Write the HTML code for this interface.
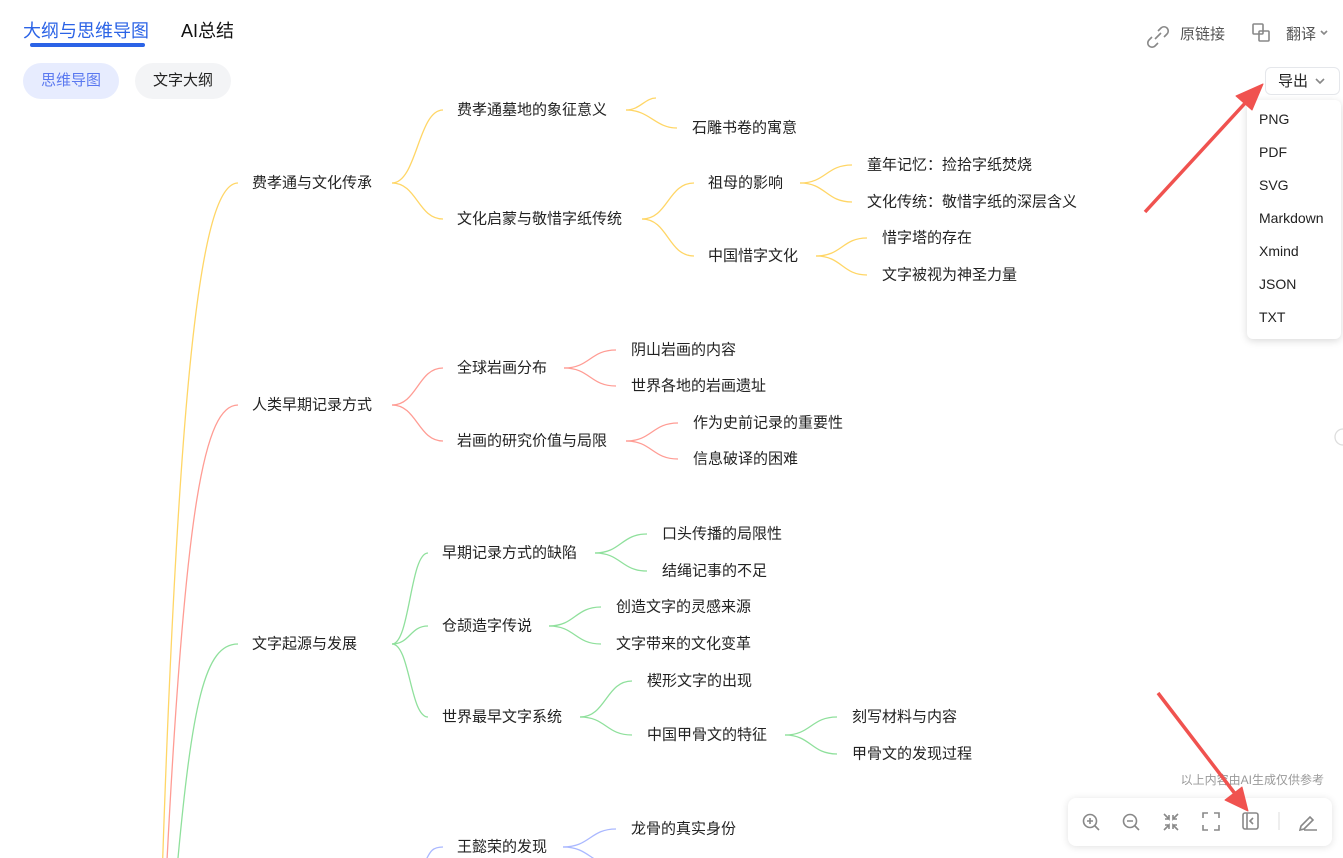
<!DOCTYPE html>
<html><head><meta charset="utf-8"><style>
body{margin:0;width:1343px;height:858px;overflow:hidden;background:#fff;font-family:"Liberation Sans","Noto Sans CJK SC",sans-serif;position:relative}
.a{position:absolute;white-space:nowrap}
svg{position:absolute;left:0;top:0}
</style></head><body>
<div class="a" style="left:23px;top:17px;font-size:18px;color:#2b63e6">大纲与思维导图</div>
<div class="a" style="left:30px;top:43px;width:115px;height:4px;border-radius:2px;background:#2b63e6"></div>
<div class="a" style="left:181px;top:17px;font-size:18px;color:#111">AI总结</div>
<div class="a" style="left:23px;top:63px;width:96px;height:36px;border-radius:18px;background:#e7ecfe;color:#5b79f0;font-size:15px;line-height:36px;text-align:center">思维导图</div>
<div class="a" style="left:135px;top:63px;width:96px;height:36px;border-radius:18px;background:#f3f4f6;color:#222;font-size:15px;line-height:36px;text-align:center">文字大纲</div>
<div class="a" style="left:1180px;top:23px;font-size:15px;color:#555">原链接</div>
<div class="a" style="left:1286px;top:23px;font-size:15px;color:#555">翻译</div>
<div class="a" style="left:1265px;top:67px;width:75px;height:28px;border:1px solid #e5e7eb;border-radius:6px;font-size:15px;line-height:28px;color:#222;box-sizing:border-box;padding-left:12px">导出</div>
<div class="a" style="left:1247px;top:100px;width:94px;height:239px;border-radius:6px;box-shadow:0 2px 8px rgba(0,0,0,.15);background:#fff;font-size:14px;color:#222">
<div style="position:absolute;left:12px;top:11px;line-height:16px">PNG</div>
<div style="position:absolute;left:12px;top:44px;line-height:16px">PDF</div>
<div style="position:absolute;left:12px;top:77px;line-height:16px">SVG</div>
<div style="position:absolute;left:12px;top:110px;line-height:16px">Markdown</div>
<div style="position:absolute;left:12px;top:143px;line-height:16px">Xmind</div>
<div style="position:absolute;left:12px;top:176px;line-height:16px">JSON</div>
<div style="position:absolute;left:12px;top:209px;line-height:16px">TXT</div>
</div>
<div class="a" style="right:19px;top:771px;font-size:12px;color:#999">以上内容由AI生成仅供参考</div>
<div class="a" style="left:1068px;top:798px;width:264px;height:48px;border-radius:8px;background:#fff;box-shadow:0 1px 8px rgba(0,0,0,.12)"></div>
<svg width="1343" height="858" viewBox="0 0 1343 858">
<g fill="none" stroke-width="1.3">
<g stroke="#ffd666">
<path d="M162,880 C180,330 205,183 238,183"/>
<path d="M392,183 C417,183 418,110 443,110"/><path d="M392,183 C417,183 418,219 443,219"/>
<path d="M626,110 C640,110 645,98 656,98"/><path d="M626,110 C650,110 655,128 677,128"/>
<path d="M642,219 C668,219 668,183 694,183"/><path d="M642,219 C668,219 668,256 694,256"/>
<path d="M800,183 C826,183 826,165 852,165"/><path d="M800,183 C826,183 826,202 852,202"/>
<path d="M816,256 C842,256 842,238 867,238"/><path d="M816,256 C842,256 842,275 867,275"/>
</g>
<g stroke="#ff9c94">
<path d="M166,880 C185,500 205,405 238,405"/>
<path d="M392,405 C417,405 418,368 443,368"/><path d="M392,405 C417,405 418,441 443,441"/>
<path d="M564,368 C590,368 590,350 616,350"/><path d="M564,368 C590,368 590,386 616,386"/>
<path d="M626,441 C652,441 652,423 678,423"/><path d="M626,441 C652,441 652,459 678,459"/>
</g>
<g stroke="#8fe09c">
<path d="M176,880 C192,700 205,644 238,644"/>
<path d="M392,644 C410,644 410,553 428,553"/><path d="M392,644 C410,644 410,626 428,626"/><path d="M392,644 C410,644 410,717 428,717"/>
<path d="M595,553 C621,553 621,534 647,534"/><path d="M595,553 C621,553 621,571 647,571"/>
<path d="M549,626 C575,626 575,607 601,607"/><path d="M549,626 C575,626 575,644 601,644"/>
<path d="M580,717 C606,717 606,681 632,681"/><path d="M580,717 C606,717 606,735 632,735"/>
<path d="M785,735 C811,735 811,717 837,717"/><path d="M785,735 C811,735 811,754 837,754"/>
</g>
<g stroke="#aab8ff">
<path d="M443,847 C432,847 430,852 426,860"/>
<path d="M563,847 C590,847 590,829 616,829"/><path d="M563,847 C590,847 590,865 616,865"/>
</g>
<g stroke="#888" stroke-width="1.6">
<path d="M1152,37 l-3,3 a4,4 0 0 0 6,6 l3,-3 M1158,31 l3,-3 a4,4 0 0 1 6,6 l-3,3 M1155,39 l6,-6"/>
<rect x="1253" y="24" width="10" height="10" rx="1"/><rect x="1259" y="31" width="10" height="10" rx="1"/>
<path d="M1321,31 l3,3 3,-3"/><path d="M1316,79 l4,4 4,-4"/>
<circle cx="1090" cy="821" r="6.5"/><path d="M1095,826 l4,4 M1087,821 h6 M1090,818 v6"/>
<circle cx="1130" cy="821" r="6.5"/><path d="M1135,826 l4,4 M1127,821 h6"/>
<path d="M1164,814 l5,5 v-4 M1169,819 h-4 M1178,814 l-5,5 v-4 M1173,819 h4 M1164,830 l5,-5 v4 M1169,825 h-4 M1178,830 l-5,-5 v4 M1173,825 h4"/>
<path d="M1203,818 v-5 h5 M1214,813 h5 v5 M1219,825 v5 h-5 M1208,830 h-5 v-5"/>
<rect x="1243" y="813" width="15" height="16" rx="2"/><path d="M1247,813 v16 M1253,818 l-3,3 3,3"/>
<path d="M1300,830 l1,-4 9,-9 3,3 -9,9 z M1304,830 h13"/>
</g>
<path d="M1279,812 v18" stroke="#e5e5e5"/>
<circle cx="1343" cy="437" r="8" stroke="#ddd"/>
</g>
<g fill="#f0524f" stroke="#f0524f" stroke-linejoin="round">
<path d="M1145,212 L1248,100" stroke-width="3.5"/><path d="M1263,84 L1236,96 L1252,110 Z"/>
<path d="M1158,693 L1236,795" stroke-width="3.5"/><path d="M1248,811 L1225,800 L1242,787 Z"/>
</g>
<g font-family="Liberation Sans, Noto Sans CJK SC, sans-serif" font-size="15" fill="#222" dominant-baseline="central">
<text x="252" y="183">费孝通与文化传承</text>
<text x="252" y="405">人类早期记录方式</text>
<text x="252" y="644">文字起源与发展</text>
<text x="457" y="110">费孝通墓地的象征意义</text>
<text x="457" y="219">文化启蒙与敬惜字纸传统</text>
<text x="692" y="128">石雕书卷的寓意</text>
<text x="708" y="183">祖母的影响</text>
<text x="708" y="256">中国惜字文化</text>
<text x="867" y="165">童年记忆：捡拾字纸焚烧</text>
<text x="867" y="202">文化传统：敬惜字纸的深层含义</text>
<text x="882" y="238">惜字塔的存在</text>
<text x="882" y="275">文字被视为神圣力量</text>
<text x="457" y="368">全球岩画分布</text>
<text x="457" y="441">岩画的研究价值与局限</text>
<text x="631" y="350">阴山岩画的内容</text>
<text x="631" y="386">世界各地的岩画遗址</text>
<text x="693" y="423">作为史前记录的重要性</text>
<text x="693" y="459">信息破译的困难</text>
<text x="442" y="553">早期记录方式的缺陷</text>
<text x="442" y="626">仓颉造字传说</text>
<text x="442" y="717">世界最早文字系统</text>
<text x="662" y="534">口头传播的局限性</text>
<text x="662" y="571">结绳记事的不足</text>
<text x="616" y="607">创造文字的灵感来源</text>
<text x="616" y="644">文字带来的文化变革</text>
<text x="647" y="681">楔形文字的出现</text>
<text x="647" y="735">中国甲骨文的特征</text>
<text x="852" y="717">刻写材料与内容</text>
<text x="852" y="754">甲骨文的发现过程</text>
<text x="457" y="847">王懿荣的发现</text>
<text x="631" y="829">龙骨的真实身份</text>
</g>
</svg>
</body></html>
